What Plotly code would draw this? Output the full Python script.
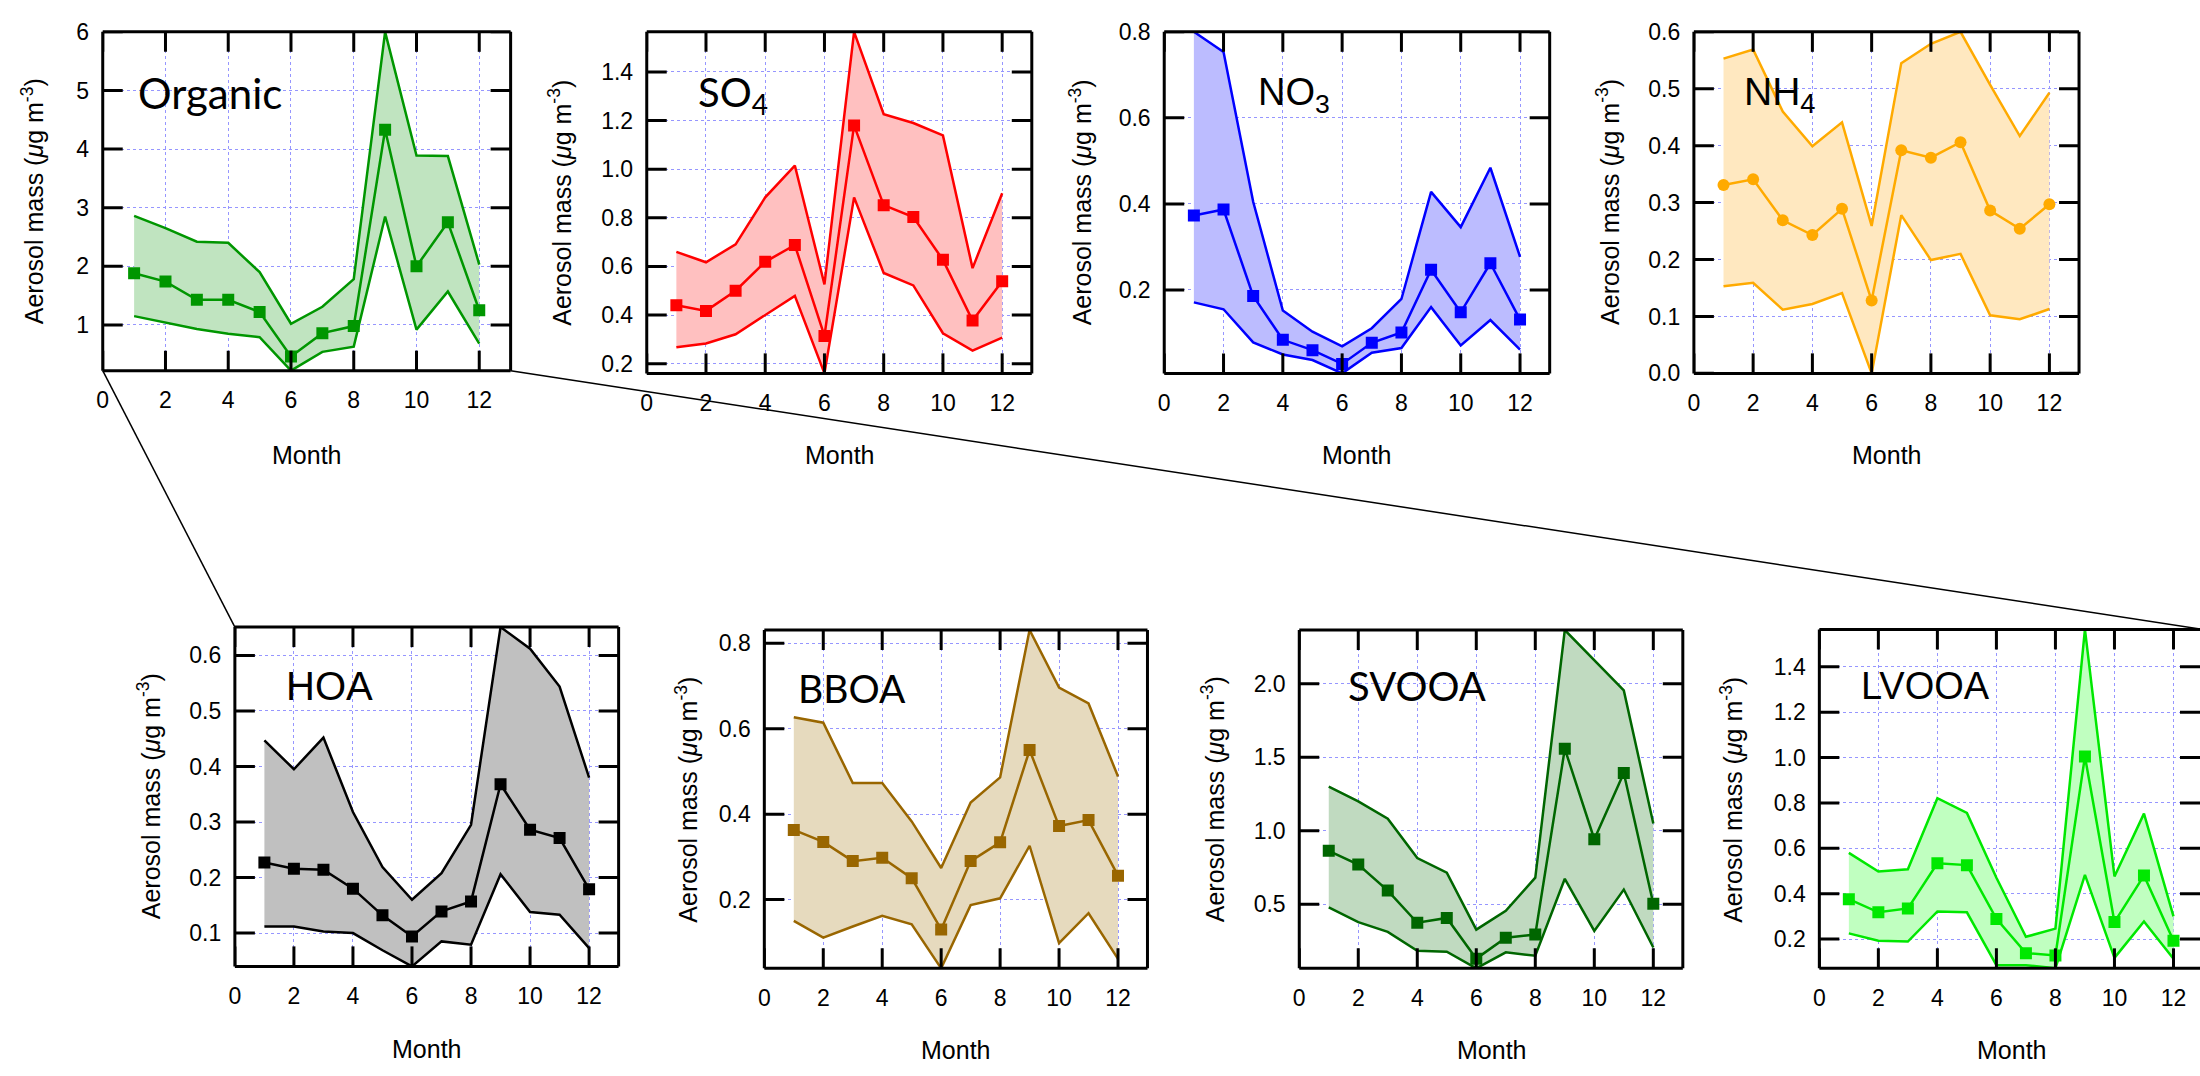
import plotly.graph_objects as go

W, H = 2200, 1076

months = list(range(1, 13))
month_ticks = [0, 2, 4, 6, 8, 10, 12]

# Monthly mean aerosol mass with upper / lower envelope (ug m-3)
organic_mean = [1.88, 1.74, 1.43, 1.43, 1.22, 0.46, 0.86, 0.98, 4.33, 2.00, 2.75, 1.25]
organic_upper = [2.86, 2.65, 2.42, 2.40, 1.90, 1.02, 1.31, 1.78, 6.00, 3.89, 3.88, 2.03]
organic_lower = [1.15, 1.04, 0.93, 0.85, 0.79, 0.22, 0.54, 0.63, 2.85, 0.92, 1.57, 0.68]

so4_mean = [0.44, 0.417, 0.50, 0.619, 0.688, 0.314, 1.18, 0.852, 0.803, 0.627, 0.377, 0.539]
so4_upper = [0.66, 0.617, 0.691, 0.884, 1.015, 0.526, 1.565, 1.226, 1.19, 1.139, 0.593, 0.901]
so4_lower = [0.267, 0.283, 0.321, 0.40, 0.479, 0.16, 0.884, 0.573, 0.522, 0.325, 0.254, 0.307]

no3_mean = [0.373, 0.387, 0.186, 0.084, 0.060, 0.028, 0.077, 0.101, 0.247, 0.148, 0.262, 0.131]
no3_upper = [0.80, 0.753, 0.405, 0.152, 0.103, 0.069, 0.111, 0.179, 0.428, 0.346, 0.484, 0.277]
no3_lower = [0.171, 0.155, 0.078, 0.050, 0.037, 0.006, 0.054, 0.065, 0.160, 0.071, 0.130, 0.061]

nh4_mean = [0.331, 0.341, 0.269, 0.243, 0.289, 0.128, 0.392, 0.379, 0.406, 0.286, 0.254, 0.297]
nh4_upper = [0.553, 0.569, 0.460, 0.399, 0.441, 0.259, 0.545, 0.579, 0.600, 0.507, 0.417, 0.493]
nh4_lower = [0.153, 0.159, 0.112, 0.122, 0.141, 0.000, 0.278, 0.199, 0.210, 0.102, 0.095, 0.113]

hoa_mean = [0.227, 0.216, 0.214, 0.180, 0.132, 0.094, 0.139, 0.157, 0.368, 0.286, 0.271, 0.179]
hoa_upper = [0.447, 0.395, 0.452, 0.318, 0.219, 0.160, 0.208, 0.295, 0.651, 0.612, 0.544, 0.380]
hoa_lower = [0.112, 0.112, 0.103, 0.100, 0.069, 0.040, 0.085, 0.079, 0.206, 0.138, 0.133, 0.073]

bboa_mean = [0.363, 0.335, 0.290, 0.298, 0.250, 0.130, 0.290, 0.334, 0.550, 0.372, 0.386, 0.256]
bboa_upper = [0.627, 0.614, 0.473, 0.473, 0.383, 0.274, 0.427, 0.486, 0.831, 0.696, 0.659, 0.488]
bboa_lower = [0.150, 0.111, 0.137, 0.162, 0.142, 0.039, 0.187, 0.203, 0.326, 0.098, 0.168, 0.061]

svooa_mean = [0.863, 0.770, 0.593, 0.374, 0.407, 0.130, 0.272, 0.294, 1.557, 0.942, 1.392, 0.504]
svooa_upper = [1.30, 1.20, 1.082, 0.814, 0.715, 0.327, 0.456, 0.681, 2.365, 2.16, 1.954, 1.049]
svooa_lower = [0.478, 0.378, 0.312, 0.184, 0.177, 0.064, 0.173, 0.150, 0.673, 0.319, 0.600, 0.206]

lvooa_mean = [0.376, 0.318, 0.335, 0.534, 0.526, 0.289, 0.138, 0.128, 1.005, 0.275, 0.480, 0.193]
lvooa_upper = [0.580, 0.498, 0.508, 0.821, 0.756, 0.470, 0.210, 0.246, 1.565, 0.476, 0.753, 0.300]
lvooa_lower = [0.225, 0.193, 0.189, 0.322, 0.318, 0.085, 0.085, 0.071, 0.483, 0.117, 0.278, 0.113]

# Tick values for each y axis
organic_ticks = [1, 2, 3, 4, 5, 6]
so4_ticks = [0.2, 0.4, 0.6, 0.8, 1.0, 1.2, 1.4]
no3_ticks = [0.2, 0.4, 0.6, 0.8]
nh4_ticks = [0.0, 0.1, 0.2, 0.3, 0.4, 0.5, 0.6]
hoa_ticks = [0.1, 0.2, 0.3, 0.4, 0.5, 0.6]
bboa_ticks = [0.2, 0.4, 0.6, 0.8]
svooa_ticks = [0.5, 1.0, 1.5, 2.0]
lvooa_ticks = [0.2, 0.4, 0.6, 0.8, 1.0, 1.2, 1.4]

LABEL_SANS = "Lato"
LABEL_HELV = "Liberation Sans"

# box = (left, top, right, bottom) in pixels of the page
panels = [
    dict(label="Organic", lfont=LABEL_SANS, lsize=42,
         mean=organic_mean, upper=organic_upper, lower=organic_lower, ticks=organic_ticks, fmt="d",
         color="rgb(0,150,0)", fill="rgb(192,228,192)", symbol="square",
         box=(97, 19.3, 506, 366.5), ytitle=(27, 193), lab=(130, 82), month_y=453),
    dict(label="SO<sub>4</sub>", lfont=LABEL_SANS, lsize=40,
         mean=so4_mean, upper=so4_upper, lower=so4_lower, ticks=so4_ticks, fmt=".1f",
         color="rgb(255,0,0)", fill="rgb(255,192,192)", symbol="square",
         box=(642.5, 19.3, 1028.6, 369.3), ytitle=(556, 194), lab=(692, 84), month_y=453),
    dict(label="NO<sub>3</sub>", lfont=LABEL_HELV, lsize=38,
         mean=no3_mean, upper=no3_upper, lower=no3_lower, ticks=no3_ticks, fmt=".1f",
         color="rgb(0,0,255)", fill="rgb(188,188,255)", symbol="square",
         box=(1161.4, 19.3, 1547.9, 369.3), ytitle=(1078, 194), lab=(1253, 84), month_y=453),
    dict(label="NH<sub>4</sub>", lfont=LABEL_HELV, lsize=39,
         mean=nh4_mean, upper=nh4_upper, lower=nh4_lower, ticks=nh4_ticks, fmt=".1f",
         color="rgb(255,170,0)", fill="rgb(255,232,192)", symbol="circle",
         box=(1692.5, 19.3, 2078.7, 369.3), ytitle=(1607, 194), lab=(1741, 84), month_y=453),
    dict(label="HOA", lfont=LABEL_HELV, lsize=40,
         mean=hoa_mean, upper=hoa_upper, lower=hoa_lower, ticks=hoa_ticks, fmt=".1f",
         color="rgb(0,0,0)", fill="rgb(192,192,192)", symbol="square",
         box=(229.5, 629.3, 614.3, 977), ytitle=(143, 803), lab=(279, 690), month_y=1062),
    dict(label="BBOA", lfont=LABEL_SANS, lsize=39,
         mean=bboa_mean, upper=bboa_upper, lower=bboa_lower, ticks=bboa_ticks, fmt=".1f",
         color="rgb(153,102,0)", fill="rgb(230,218,190)", symbol="square",
         box=(760.4, 632.3, 1144.6, 979), ytitle=(682, 806), lab=(792, 692), month_y=1063),
    dict(label="SVOOA", lfont=LABEL_SANS, lsize=40,
         mean=svooa_mean, upper=svooa_upper, lower=svooa_lower, ticks=svooa_ticks, fmt=".1f",
         color="rgb(0,102,0)", fill="rgb(192,218,192)", symbol="square",
         box=(1296.8, 632.3, 1681.4, 979), ytitle=(1210, 806), lab=(1344, 690), month_y=1063),
    dict(label="LVOOA", lfont=LABEL_HELV, lsize=38,
         mean=lvooa_mean, upper=lvooa_upper, lower=lvooa_lower, ticks=lvooa_ticks, fmt=".1f",
         color="rgb(0,232,0)", fill="rgb(192,255,192)", symbol="square",
         box=(1818.3, 631.7, 2203, 979), ytitle=(1730, 806), lab=(1858, 690), month_y=1063),
]

TICK_FONT = dict(family="Liberation Sans", size=23, color="black")
TITLE_FONT = dict(family="Liberation Sans", size=25, color="black")
GRID = "rgb(150,150,255)"
FRAME = dict(color="black", width=3)
TICK_LEN = 20

fig = go.Figure()
layout = dict(
    width=W, height=H, margin=dict(l=0, r=0, t=0, b=0),
    paper_bgcolor="white", plot_bgcolor="white", showlegend=False,
    annotations=[], shapes=[],
)


def px(x):
    return x / W


def py(y):
    return 1 - y / H


def frame_and_ticks(xa, ya, xticks, yticks, draw_right):
    """Axis frame with inward-pointing tick marks on all four sides."""
    xd, yd = f"{xa} domain", f"{ya} domain"
    out = [
        dict(type="line", xref=xd, yref=yd, x0=0, x1=1, y0=0, y1=0, line=FRAME),
        dict(type="line", xref=xd, yref=yd, x0=0, x1=1, y0=1, y1=1, line=FRAME),
        dict(type="line", xref=xd, yref=yd, x0=0, x1=0, y0=0, y1=1, line=FRAME),
    ]
    if draw_right:
        out.append(dict(type="line", xref=xd, yref=yd, x0=1, x1=1, y0=0, y1=1, line=FRAME))
    for t in xticks:
        out.append(dict(type="line", xref=xa, yref=yd, ysizemode="pixel", yanchor=0,
                        x0=t, x1=t, y0=0, y1=TICK_LEN, line=FRAME))
        out.append(dict(type="line", xref=xa, yref=yd, ysizemode="pixel", yanchor=1,
                        x0=t, x1=t, y0=0, y1=-TICK_LEN, line=FRAME))
    for t in yticks:
        out.append(dict(type="line", xref=xd, yref=ya, xsizemode="pixel", xanchor=0,
                        x0=0, x1=TICK_LEN, y0=t, y1=t, line=FRAME))
        out.append(dict(type="line", xref=xd, yref=ya, xsizemode="pixel", xanchor=1,
                        x0=0, x1=-TICK_LEN, y0=t, y1=t, line=FRAME))
    return out


for i, p in enumerate(panels, start=1):
    xa = "x" if i == 1 else f"x{i}"
    ya = "y" if i == 1 else f"y{i}"
    left, top, right, bottom = p["box"]
    vis_right = min(right, W)
    xmax = 13 * (vis_right - left) / (right - left)
    ylo, yhi = min(p["lower"]), max(p["upper"])

    fig.add_trace(go.Scatter(x=months, y=p["lower"], mode="lines",
                             line=dict(color=p["color"], width=2.5),
                             xaxis=xa, yaxis=ya, hoverinfo="skip"))
    fig.add_trace(go.Scatter(x=months, y=p["upper"], mode="lines",
                             line=dict(color=p["color"], width=2.5),
                             fill="tonexty", fillcolor=p["fill"],
                             xaxis=xa, yaxis=ya, hoverinfo="skip"))
    fig.add_trace(go.Scatter(x=months, y=p["mean"], mode="lines+markers",
                             line=dict(color=p["color"], width=2.5),
                             marker=dict(symbol=p["symbol"], size=12, color=p["color"],
                                         line=dict(width=0)),
                             xaxis=xa, yaxis=ya))

    # invisible outside ticks only set the gap between the frame and the tick labels
    common = dict(showline=False, ticks="outside", tickcolor="rgba(0,0,0,0)", tickwidth=1,
                  showgrid=True, gridcolor=GRID, gridwidth=1,
                  griddash="dot", zeroline=False, tickfont=TICK_FONT)
    layout["xaxis" if i == 1 else f"xaxis{i}"] = dict(
        common, ticklen=9, domain=[px(left), px(vis_right)], range=[0, xmax],
        tickmode="array", tickvals=month_ticks, anchor=ya)
    layout["yaxis" if i == 1 else f"yaxis{i}"] = dict(
        common, ticklen=8, domain=[py(bottom), py(top)], range=[ylo, yhi],
        tickmode="array", tickvals=p["ticks"], tickformat=p["fmt"], anchor=xa)

    layout["shapes"].extend(frame_and_ticks(xa, ya, month_ticks, p["ticks"], right <= W))

    # panel name
    layout["annotations"].append(dict(
        text=p["label"], xref="paper", yref="paper", x=px(p["lab"][0]), y=py(p["lab"][1]),
        xanchor="left", yanchor="middle", showarrow=False,
        font=dict(family=p["lfont"], size=p["lsize"], color="black")))
    # y-axis title
    layout["annotations"].append(dict(
        text="Aerosol mass (<i>μ</i>g m<sup>-3</sup>)", xref="paper", yref="paper",
        x=px(p["ytitle"][0]), y=py(p["ytitle"][1]), textangle=-90,
        xanchor="center", yanchor="middle", showarrow=False, font=TITLE_FONT))
    # x-axis title
    layout["annotations"].append(dict(
        text="Month", xref="paper", yref="paper",
        x=px((left + right) / 2), y=py(p["month_y"]),
        xanchor="center", yanchor="middle", showarrow=False, font=TITLE_FONT))

# zoom connectors from the Organic panel to the organic factor row
org = panels[0]["box"]
hoa = panels[4]["box"]
lvo = panels[7]["box"]
layout["shapes"].append(dict(type="line", xref="paper", yref="paper",
                             x0=px(org[0]), y0=py(org[3]), x1=px(hoa[0]), y1=py(hoa[1]),
                             line=dict(color="black", width=1.5)))
layout["shapes"].append(dict(type="line", xref="paper", yref="paper",
                             x0=px(org[2]), y0=py(org[3]), x1=px(lvo[2]), y1=py(lvo[1]),
                             line=dict(color="black", width=1.5)))

fig.update_layout(**layout)
fig.write_html("out.html")
